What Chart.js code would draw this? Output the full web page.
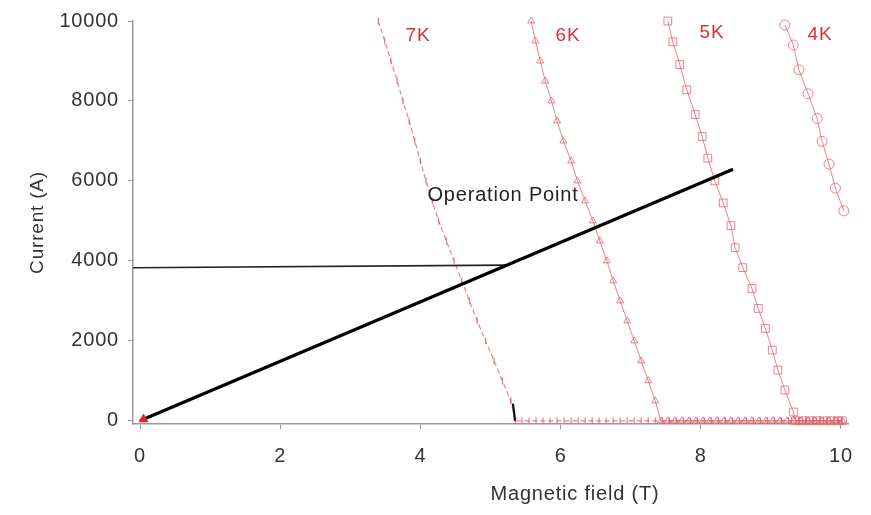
<!DOCTYPE html>
<html>
<head>
<meta charset="utf-8">
<script src="https://cdn.jsdelivr.net/npm/chart.js@4.4.0/dist/chart.umd.min.js"></script>
<style>
  html, body { margin: 0; padding: 0; background: #fff; }
  #wrap { width: 871px; height: 515px; }
</style>
</head>
<body>
<div id="wrap"><canvas id="grafico"></canvas></div>
<script>
// tick labels
const xTicks = [0, 2, 4, 6, 8, 10];
const yTicks = [0, 2000, 4000, 6000, 8000, 10000];

// 7K critical current curve (T, A)
const k7Field = [3.40, 3.49, 3.58, 3.67, 3.75, 3.84, 3.92, 4.00, 4.08, 4.17, 4.26, 4.37, 4.48, 4.59, 4.70, 4.81, 4.93, 5.05, 5.17, 5.29, 5.36,
  5.45, 5.55, 5.65, 5.75, 5.85, 5.95, 6.05, 6.15, 6.25, 6.35, 6.45, 6.55, 6.65, 6.75, 6.85, 6.95, 7.05, 7.15, 7.25, 7.35, 7.45,
  7.55, 7.65, 7.75, 7.85, 7.95, 8.05, 8.15, 8.25, 8.35, 8.45, 8.55, 8.65, 8.75, 8.85, 8.95, 9.05, 9.15, 9.25, 9.35, 9.45, 9.55,
  9.65, 9.75, 9.85, 9.95, 10.02];
const k7Current = [10000, 9500, 9000, 8500, 8000, 7500, 7000, 6500, 6000, 5500, 5000, 4500, 4000, 3500, 3000, 2500, 2000, 1500, 1000, 500, 0,
  0, 0, 0, 0, 0, 0, 0, 0, 0, 0, 0, 0, 0, 0, 0, 0, 0, 0, 0, 0, 0,
  0, 0, 0, 0, 0, 0, 0, 0, 0, 0, 0, 0, 0, 0, 0, 0, 0, 0, 0, 0, 0,
  0, 0, 0, 0, 0];

// 6K
const k6Field = [5.58, 5.64, 5.71, 5.78, 5.87, 5.95, 6.04, 6.15, 6.24, 6.35, 6.46, 6.56, 6.66, 6.75, 6.85, 6.95, 7.05, 7.15, 7.25, 7.35, 7.43,
  7.53, 7.63, 7.73, 7.83, 7.93, 8.03, 8.13, 8.23, 8.33, 8.43, 8.53, 8.63, 8.73, 8.83, 8.93, 9.03, 9.13, 9.23, 9.33, 9.43, 9.53,
  9.63, 9.73, 9.83, 9.93, 10.02];
const k6Current = [10000, 9500, 9000, 8500, 8000, 7500, 7000, 6500, 6000, 5500, 5000, 4500, 4000, 3500, 3000, 2500, 2000, 1500, 1000, 500, 0,
  0, 0, 0, 0, 0, 0, 0, 0, 0, 0, 0, 0, 0, 0, 0, 0, 0, 0, 0, 0, 0,
  0, 0, 0, 0, 0];

// 5K
const k5Field = [7.53, 7.60, 7.70, 7.80, 7.92, 8.02, 8.10, 8.20, 8.32, 8.43, 8.49, 8.60, 8.73, 8.82, 8.92, 9.02, 9.10, 9.20, 9.32, 9.35,
  9.45, 9.55, 9.65, 9.75, 9.85, 9.95, 10.02];
const k5Current = [10000, 9480, 8910, 8280, 7660, 7110, 6570, 6000, 5450, 4880, 4330, 3830, 3310, 2810, 2310, 1770, 1270, 770, 220, 0,
  0, 0, 0, 0, 0, 0, 0];

// 4K
const k4Field = [9.20, 9.32, 9.40, 9.53, 9.66, 9.73, 9.83, 9.92, 10.04];
const k4Current = [9900, 9400, 8780, 8180, 7560, 6990, 6420, 5820, 5250];

// load line and operating current
const loadField = [0, 8.46];
const loadCurrent = [0, 6290];
const opField = [-0.1, 5.24];
const opCurrent = [3830, 3895];
const markField = [5.32, 5.35];
const markCurrent = [430, 0];

const tempLabels = ["7K", "6K", "5K", "4K"];
const tempLabelPos = [[418, 36], [568, 36], [712, 33], [820, 35]];

function pts(xs, ys) {
  return xs.map((x, i) => ({ x: x, y: ys[i] }));
}

const vermelho = "rgba(228, 90, 100, 0.75)";
const fonte = "'Liberation Sans', Arial, sans-serif";

// texto um pouco mais largo, como no original
const espacamento = {
  id: "espacamento",
  beforeDraw(chart) {
    chart.ctx.letterSpacing = "0.8px";
  },
};

const textos = {
  id: "textos",
  afterDatasetsDraw(chart) {
    const ctx = chart.ctx;
    ctx.save();
    ctx.letterSpacing = "0.8px";
    ctx.textAlign = "center";
    ctx.textBaseline = "middle";
    ctx.fillStyle = "#d8303c";
    ctx.font = "19px " + fonte;
    for (let i = 0; i < tempLabels.length; i++) {
      ctx.fillText(tempLabels[i], tempLabelPos[i][0], tempLabelPos[i][1]);
    }
    ctx.fillStyle = "#222";
    ctx.font = "20px " + fonte;
    ctx.fillText("Operation Point", 503, 195);
    ctx.fillStyle = "#333";
    ctx.fillText("Magnetic field (T)", 575, 494);
    ctx.restore();
  },
};

let ctx = document.getElementById("grafico").getContext("2d");
let chart = new Chart(ctx, {
  type: "scatter",
  data: {
    datasets: [
      {
        data: pts(k7Field, k7Current),
        order: 2,
        showLine: true,
        borderColor: vermelho,
        borderWidth: 1.2,
        borderDash: [5, 3],
        pointStyle: "line",
        rotation: 90,
        pointRadius: 3.5,
        pointBorderColor: vermelho,
        pointBorderWidth: 1.2,
      },
      {
        data: pts(k6Field, k6Current),
        order: 2,
        showLine: true,
        borderColor: vermelho,
        borderWidth: 1,
        pointStyle: "triangle",
        pointRadius: 4,
        pointBorderColor: vermelho,
        pointBackgroundColor: "rgba(255,255,255,0)",
        pointBorderWidth: 1,
      },
      {
        data: pts(k5Field, k5Current),
        order: 2,
        showLine: true,
        borderColor: vermelho,
        borderWidth: 1,
        pointStyle: "rect",
        pointRadius: 5.5,
        pointBorderColor: vermelho,
        pointBackgroundColor: "rgba(255,255,255,0)",
        pointBorderWidth: 1,
      },
      {
        data: pts(k4Field, k4Current),
        order: 2,
        showLine: true,
        borderColor: vermelho,
        borderWidth: 1,
        pointStyle: "circle",
        pointRadius: 5,
        pointBorderColor: vermelho,
        pointBackgroundColor: "rgba(255,255,255,0)",
        pointBorderWidth: 1,
      },
      {
        data: pts(loadField, loadCurrent),
        order: 1,
        showLine: true,
        borderColor: "#000",
        borderWidth: 3.2,
        pointRadius: 0,
      },
      {
        data: pts(opField, opCurrent),
        order: 1,
        showLine: true,
        borderColor: "#222",
        borderWidth: 1.6,
        pointRadius: 0,
      },
      {
        data: pts(markField, markCurrent),
        order: 1,
        showLine: true,
        borderColor: "#111",
        borderWidth: 2.2,
        pointRadius: 0,
      },
      {
        data: [{ x: 0.05, y: 40 }],
        order: 0,
        pointStyle: "triangle",
        pointRadius: 5,
        pointBackgroundColor: "#e0202a",
        pointBorderColor: "#e0202a",
      },
    ],
  },
  options: {
    responsive: true,
    maintainAspectRatio: false,
    animation: false,
    clip: false,
    layout: { padding: { top: 19, right: 23, left: 0, bottom: 0 } },
    plugins: {
      legend: { display: false },
      tooltip: { enabled: false },
    },
    scales: {
      x: {
        type: "linear",
        min: -0.1,
        max: 10.1,
        afterBuildTicks: (s) => { s.ticks = xTicks.map((v) => ({ value: v })); },
        afterFit: (s) => { s.height = 91; },
        grid: { drawOnChartArea: false, tickLength: 5, color: "#999" },
        border: { color: "#999", width: 1.5 },
        ticks: { color: "#333", font: { family: fonte, size: 20 }, padding: 15, callback: (v) => String(v) },
      },
      y: {
        type: "linear",
        min: -80,
        max: 10000,
        afterBuildTicks: (s) => { s.ticks = yTicks.map((v) => ({ value: v })); },
        afterFit: (s) => { s.width = 133; },
        grid: { drawOnChartArea: false, tickLength: 5, color: "#999" },
        border: { color: "#999", width: 1.5 },
        ticks: { color: "#333", font: { family: fonte, size: 20 }, padding: 9, callback: (v) => String(v) },
        title: {
          display: true,
          text: "Current (A)",
          color: "#333",
          font: { family: fonte, size: 19, lineHeight: 1.2 },
          padding: { top: 26, bottom: 0 },
        },
      },
    },
  },
  plugins: [espacamento, textos],
});
</script>
</body>
</html>
